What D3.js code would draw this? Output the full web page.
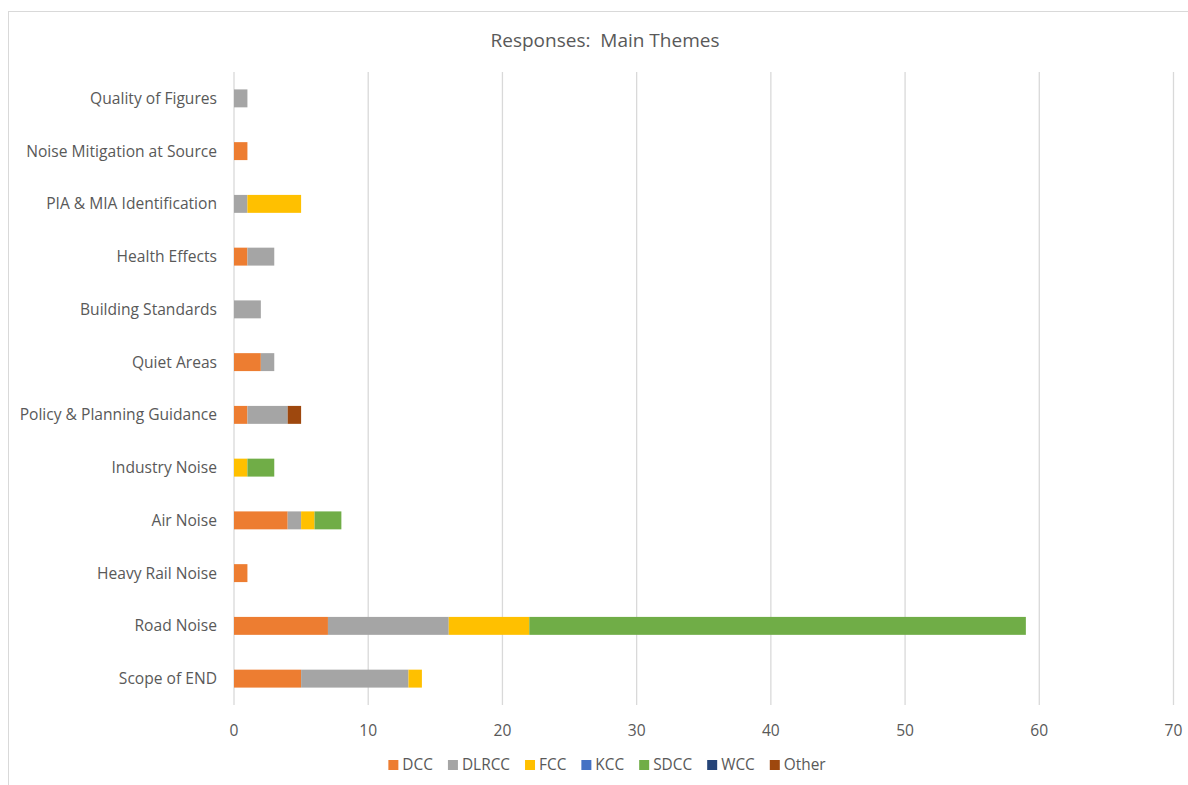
<!DOCTYPE html>
<html>
<head>
<meta charset="utf-8">
<script src="https://cdn.jsdelivr.net/npm/d3@7"></script>
<style>
  body { margin: 0; background: #fff; }
  text { font-family: "Open Sans", "Noto Sans", sans-serif; fill: #595959; }
</style>
</head>
<body>
<div id="viz"></div>
<script>
"use strict";

const w = 1188;
const h = 785;

// categories listed top to bottom
const categories = ["Quality of Figures", "Noise Mitigation at Source", "PIA & MIA Identification",
  "Health Effects", "Building Standards", "Quiet Areas", "Policy & Planning Guidance",
  "Industry Noise", "Air Noise", "Heavy Rail Noise", "Road Noise", "Scope of END"];
const seriesNames = ["DCC", "DLRCC", "FCC", "KCC", "SDCC", "WCC", "Other"];
const seriesColors = ["#ED7D31", "#A5A5A5", "#FFC000", "#4472C4", "#70AD47", "#264478", "#9E480E"];

const DCC   = [0, 1, 0, 1, 0, 2, 1, 0, 4, 1, 7, 5];
const DLRCC = [1, 0, 1, 2, 2, 1, 3, 0, 1, 0, 9, 8];
const FCC   = [0, 0, 4, 0, 0, 0, 0, 1, 1, 0, 6, 1];
const KCC   = [0, 0, 0, 0, 0, 0, 0, 0, 0, 0, 0, 0];
const SDCC  = [0, 0, 0, 0, 0, 0, 0, 2, 2, 0, 37, 0];
const WCC   = [0, 0, 0, 0, 0, 0, 0, 0, 0, 0, 0, 0];
const Other = [0, 0, 0, 0, 0, 0, 1, 0, 0, 0, 0, 0];
const xTicks = [0, 10, 20, 30, 40, 50, 60, 70];

const seriesValues = [DCC, DLRCC, FCC, KCC, SDCC, WCC, Other];
const rows = categories.map((c, i) => {
  const r = { cat: c };
  seriesNames.forEach((s, j) => { r[s] = seriesValues[j][i]; });
  return r;
});

const svg = d3.select("#viz")
  .append("svg")
  .attr("width", w)
  .attr("height", h)

// chart border
svg.append("rect")
  .attr("x", 8.5).attr("y", 11.5)
  .attr("width", 1200).attr("height", 800)
  .attr("fill", "#fff")
  .attr("stroke", "#d9d9d9")

svg.append("text")
  .attr("x", 605).attr("y", 47)
  .attr("text-anchor", "middle")
  .style("font-size", "19px")
  .style("white-space", "pre")
  .text("Responses:  Main Themes")

const x = d3.scaleLinear().domain([0, 70]).range([234, 1173.5]);
const y = d3.scaleBand().domain(categories).range([72, 705]).paddingInner(0.66).paddingOuter(0.33);

// gridlines
svg.append("g")
  .selectAll("line")
  .data(xTicks)
  .join("line")
  .attr("x1", d => x(d)).attr("x2", d => x(d))
  .attr("y1", 72).attr("y2", 705)
  .attr("stroke", "#d9d9d9")
  .attr("stroke-width", 1.3)

const stack = d3.stack().keys(seriesNames)(rows);
const color = d3.scaleOrdinal().domain(seriesNames).range(seriesColors);

svg.append("g")
  .selectAll("g")
  .data(stack)
  .join("g")
  .attr("fill", d => color(d.key))
  .selectAll("rect")
  .data(d => d.filter(p => p[1] > p[0]))
  .join("rect")
  .attr("x", d => x(d[0]))
  .attr("width", d => x(d[1]) - x(d[0]))
  .attr("y", d => y(d.data.cat))
  .attr("height", y.bandwidth())

// category labels
svg.append("g")
  .selectAll("text")
  .data(categories)
  .join("text")
  .attr("x", 217)
  .attr("y", d => y(d) + y.bandwidth() / 2)
  .attr("dy", "0.35em")
  .attr("text-anchor", "end")
  .style("font-size", "15.6px")
  .text(d => d)

// x tick labels
svg.append("g")
  .selectAll("text")
  .data(xTicks)
  .join("text")
  .attr("x", d => x(d))
  .attr("y", 736)
  .attr("text-anchor", "middle")
  .style("font-size", "15.6px")
  .text(d => d)

// legend
const legend = svg.append("g");
let lx = 0;
const items = [];
seriesNames.forEach((s, i) => {
  const g = legend.append("g");
  g.append("rect").attr("x", 0).attr("y", -5).attr("width", 10).attr("height", 10).attr("fill", seriesColors[i]);
  const t = g.append("text").attr("x", 14).attr("y", 0).attr("dy", "0.35em")
    .style("font-size", "15.4px").text(s);
  items.push({ g, x: lx });
  lx += 14 + t.node().getComputedTextLength() + 15;
});
const total = lx - 15;
const lx0 = 607 - total / 2;
items.forEach(it => it.g.attr("transform", `translate(${lx0 + it.x},765)`));
</script>
</body>
</html>
